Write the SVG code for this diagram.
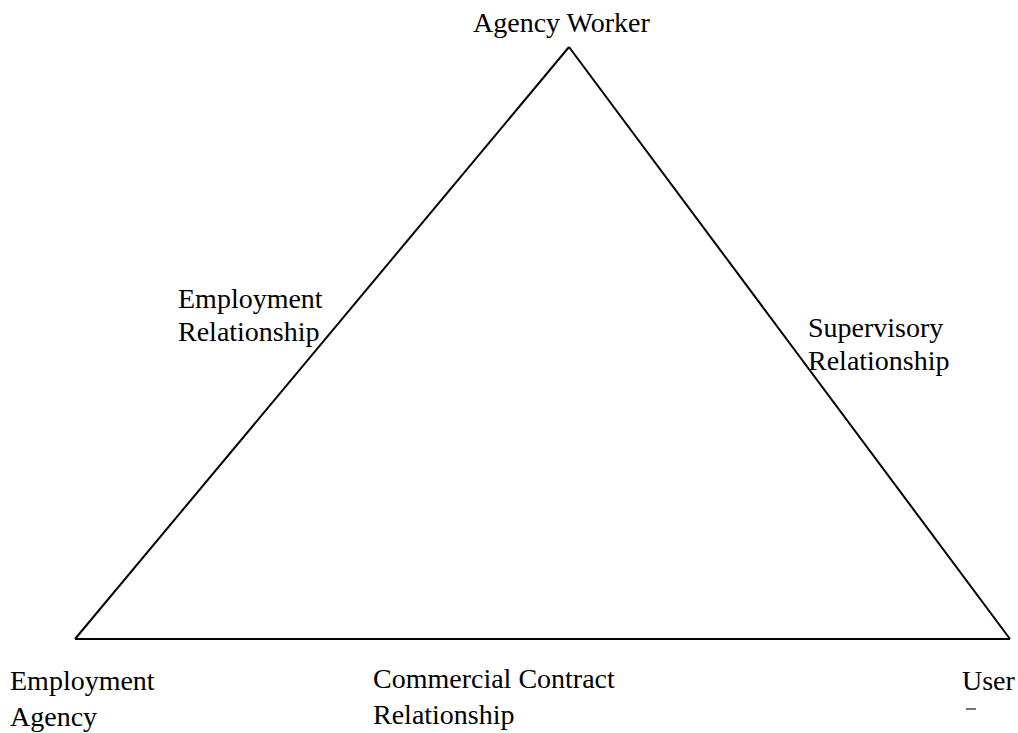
<svg xmlns="http://www.w3.org/2000/svg" width="1018" height="733" viewBox="0 0 1018 733">
  <style>
    .lbl { font-family: "Liberation Serif", "Times New Roman", serif; font-size: 28px; fill: #000; }
    .edge { fill: none; stroke: #000; stroke-width: 2; stroke-linejoin: miter; }
  </style>
  <rect width="1018" height="733" fill="#fff"/>

  <!-- triangle sides -->
  <g id="connectors">
    <path class="edge" d="M75,639 L569,47"/>
    <path class="edge" d="M569,47 L1010,639"/>
    <path class="edge" d="M75,639 L1010,639"/>
  </g>

  <!-- edge labels -->
  <g id="label-employment-relationship">
    <text class="lbl" x="178" y="308">Employment</text>
    <text class="lbl" x="178" y="341">Relationship</text>
  </g>
  <g id="label-supervisory-relationship">
    <text class="lbl" x="808" y="337">Supervisory</text>
    <text class="lbl" x="808" y="370">Relationship</text>
  </g>
  <g id="label-commercial-contract">
    <text class="lbl" x="373" y="688">Commercial Contract</text>
    <text class="lbl" x="373" y="724">Relationship</text>
  </g>

  <!-- vertices -->
  <g id="node-agency-worker">
    <text class="lbl" x="473" y="32">Agency Worker</text>
  </g>
  <g id="node-employment-agency">
    <text class="lbl" x="10" y="690">Employment</text>
    <text class="lbl" x="10" y="726">Agency</text>
  </g>
  <g id="node-user">
    <text class="lbl" x="962" y="690">User</text>
    <path d="M966,709 H976" stroke="#444" stroke-width="1.5"/>
  </g>
</svg>
